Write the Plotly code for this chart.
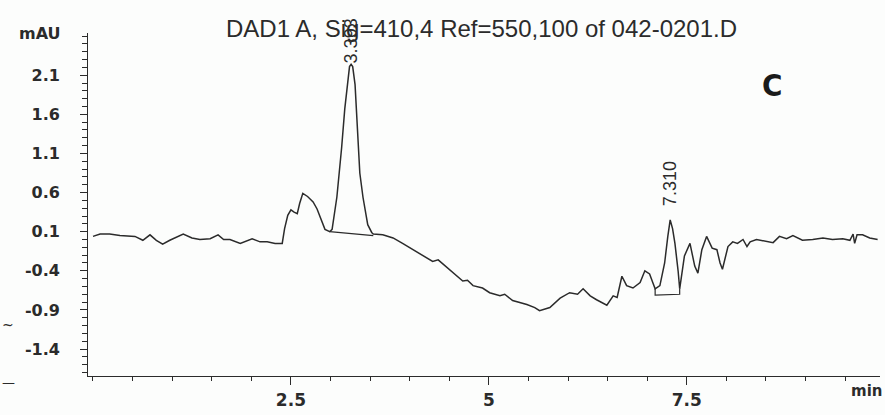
import plotly.graph_objects as go

# ---- data ----
time_min = [0.00, 0.09, 0.21, 0.34, 0.53, 0.63, 0.72, 0.80, 0.88, 0.97, 1.14, 1.25, 1.35, 1.48,
            1.58, 1.65, 1.73, 1.86, 2.01, 2.11, 2.20, 2.30, 2.39, 2.42, 2.46, 2.50, 2.54, 2.58,
            2.61, 2.65, 2.71, 2.78, 2.83, 2.89, 2.93, 2.99, 3.02, 3.08, 3.12, 3.14, 3.18, 3.22,
            3.24, 3.26, 3.28, 3.31, 3.33, 3.35, 3.37, 3.41, 3.43, 3.47, 3.52, 3.54, 3.66, 3.79,
            3.91, 4.04, 4.17, 4.29, 4.36, 4.42, 4.55, 4.67, 4.73, 4.80, 4.92, 5.01, 5.14, 5.20,
            5.30, 5.48, 5.58, 5.64, 5.77, 5.90, 6.02, 6.12, 6.19, 6.28, 6.36, 6.49, 6.57, 6.62,
            6.68, 6.74, 6.82, 6.91, 6.97, 7.03, 7.07, 7.10, 7.16, 7.22, 7.26, 7.29, 7.32, 7.35,
            7.39, 7.41, 7.47, 7.54, 7.60, 7.64, 7.69, 7.75, 7.82, 7.88, 7.92, 7.95, 8.02, 8.08,
            8.14, 8.21, 8.26, 8.30, 8.38, 8.51, 8.59, 8.67, 8.76, 8.84, 8.96, 9.09, 9.22, 9.34,
            9.47, 9.56, 9.60, 9.62, 9.65, 9.72, 9.81, 9.91]
signal_mau = [0.04, 0.07, 0.07, 0.05, 0.04, -0.01, 0.06, -0.01, -0.06, -0.01, 0.07, 0.02, 0.00, 0.01,
              0.06, 0.00, 0.00, -0.05, 0.01, -0.03, -0.03, -0.05, -0.05, 0.14, 0.31, 0.38, 0.35, 0.33,
              0.46, 0.59, 0.55, 0.48, 0.39, 0.23, 0.13, 0.10, 0.13, 0.54, 0.92, 1.17, 1.67, 2.05,
              2.21, 2.24, 2.21, 1.98, 1.54, 1.17, 0.85, 0.54, 0.41, 0.19, 0.09, 0.07, 0.06, 0.02,
              -0.05, -0.13, -0.21, -0.28, -0.26, -0.31, -0.43, -0.53, -0.52, -0.59, -0.62, -0.68, -0.72, -0.70,
              -0.78, -0.83, -0.87, -0.91, -0.87, -0.75, -0.68, -0.70, -0.63, -0.72, -0.77, -0.84, -0.72, -0.74,
              -0.47, -0.59, -0.62, -0.55, -0.40, -0.44, -0.55, -0.63, -0.59, -0.30, 0.04, 0.25, 0.14, -0.05,
              -0.40, -0.63, -0.21, -0.05, -0.34, -0.43, -0.13, 0.04, -0.11, -0.13, -0.30, -0.38, -0.09, -0.03,
              -0.05, 0.00, -0.09, -0.03, 0.00, -0.03, -0.04, 0.04, 0.01, 0.05, -0.01, 0.00, 0.02, 0.00,
              0.01, -0.01, 0.07, -0.05, 0.06, 0.06, 0.02, 0.00]

# integration baselines under the two labelled peaks
base1_t = [2.99, 3.54]
base1_v = [0.10, 0.05]
base2_t = [7.10, 7.10, 7.41, 7.41]
base2_v = [-0.63, -0.71, -0.70, -0.63]

peak_labels = ["3.393", "7.310"]
peak_t = [3.26, 7.29]
peak_v = [2.24, 0.25]

y_tickvals = [2.1, 1.6, 1.1, 0.6, 0.1, -0.4, -0.9, -1.4]
x_tickvals = [2.5, 5, 7.5]
x_ticktext = ["2.5", "5", "7.5"]

title_text = "DAD1 A, Sig=410,4 Ref=550,100 of 042-0201.D"
y_unit = "mAU"
x_unit = "min"
panel_letter = "C"

# ---- figure ----
ink = "#2b2b2b"
fig = go.Figure()
fig.add_trace(go.Scatter(x=time_min, y=signal_mau, mode="lines",
                         line=dict(color=ink, width=1.5), hoverinfo="skip"))
fig.add_trace(go.Scatter(x=base1_t, y=base1_v, mode="lines",
                         line=dict(color=ink, width=1.2), hoverinfo="skip"))
fig.add_trace(go.Scatter(x=base2_t, y=base2_v, mode="lines",
                         line=dict(color=ink, width=1.2), hoverinfo="skip"))

pad = "\u00a0\u00a0\u00a0"
fig.update_layout(
    yaxis=dict(range=[-1.745, 2.64], tickvals=y_tickvals,
               ticktext=[f"{v:.1f}{pad}" for v in y_tickvals],
               showline=True, linecolor=ink, linewidth=1.3, showgrid=False, zeroline=False,
               ticks="outside", ticklen=7, tickcolor=ink, tickwidth=1.3,
               minor=dict(tickmode="linear", tick0=0.1, dtick=0.1, ticks="outside",
                          ticklen=5, tickcolor=ink, tickwidth=1.3),
               tickfont=dict(family="DejaVu Sans", size=16, color=ink, weight="bold")),
    xaxis=dict(range=[-0.063, 9.94], tickvals=x_tickvals, ticktext=x_ticktext,
               showline=True, linecolor=ink, linewidth=1.3, showgrid=False, zeroline=False,
               ticks="outside", ticklen=8, tickcolor=ink, tickwidth=1.2,
               minor=dict(tickmode="linear", tick0=0, dtick=0.5, ticks="outside", ticklen=4,
                          tickcolor=ink, tickwidth=1.2),
               tickfont=dict(family="DejaVu Sans", size=17, color=ink, weight="bold")),
)

bold = dict(family="DejaVu Sans", color=ink, weight="bold")
ann = []
ann.append(dict(text=title_text, xref="paper", yref="paper", x=(481 - 88) / 792, y=1 + 5 / 349,
                xanchor="center", yanchor="middle", showarrow=False,
                font=dict(family="Liberation Sans, Arial", size=24, color=ink)))
ann.append(dict(text=y_unit, xref="paper", yref="paper", x=-25 / 792, y=1,
                xanchor="right", yanchor="middle", showarrow=False,
                font=dict(bold, size=16)))
ann.append(dict(text=panel_letter, x=8.57, y=1.97, xanchor="center", yanchor="middle",
                showarrow=False,
                font=dict(family="DejaVu Sans Condensed, DejaVu Sans", size=31, color="#1a1a1a",
                          weight="bold")))
shifts = [23, 36]
for lab, t, v, s in zip(peak_labels, peak_t, peak_v, shifts):
    ann.append(dict(text=lab, x=t, y=v, xanchor="center", yanchor="middle", yshift=s,
                    textangle=-90, showarrow=False,
                    font=dict(family="Liberation Sans, Arial", size=18, color=ink)))
ann.append(dict(text=x_unit, xref="paper", yref="paper", x=(866 - 88) / 792, y=-15 / 349,
                xanchor="center", yanchor="middle", showarrow=False,
                font=dict(bold, size=15)))
# scanning remnants at the left edge
ann.append(dict(text="~", xref="paper", yref="paper", x=-80 / 792, y=(382 - 330) / 349,
                xanchor="center", yanchor="middle", showarrow=False,
                font=dict(family="DejaVu Sans", size=14, color=ink)))
ann.append(dict(text="—", xref="paper", yref="paper", x=-80 / 792, y=(382 - 389) / 349,
                xanchor="center", yanchor="middle", showarrow=False,
                font=dict(family="DejaVu Sans", size=13, color=ink)))
fig.update_layout(annotations=ann)

fig.update_layout(width=885, height=415, margin=dict(l=88, r=5, t=33, b=33),
                  paper_bgcolor="#fcfdfc", plot_bgcolor="#fcfdfc", showlegend=False)

fig.write_html("out.html")
